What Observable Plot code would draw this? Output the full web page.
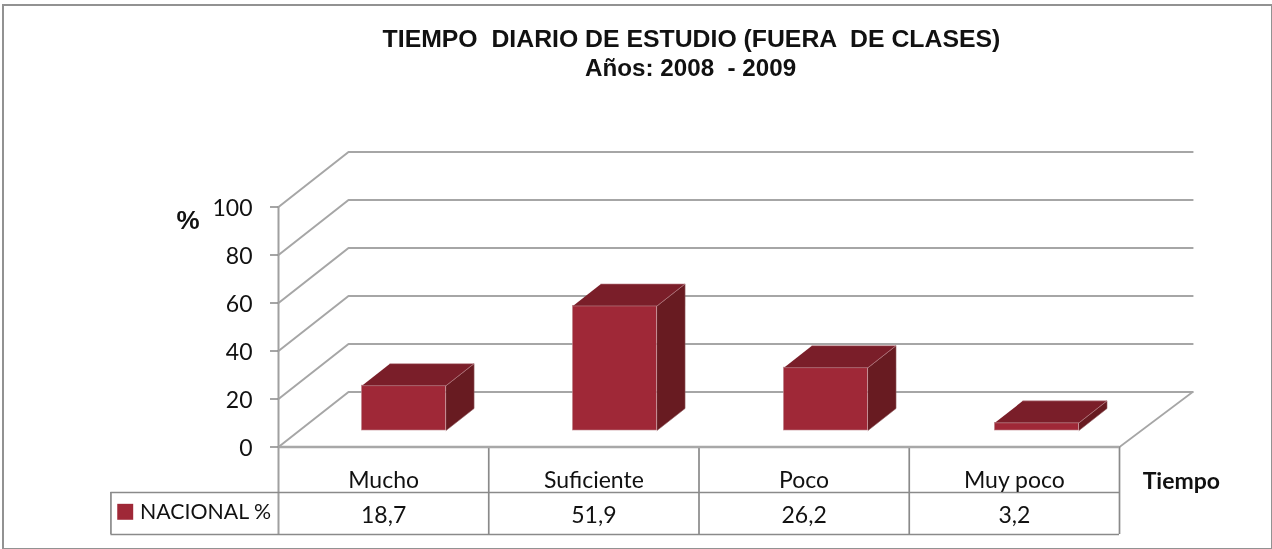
<!DOCTYPE html>
<html><head><meta charset="utf-8">
<script src="https://cdn.jsdelivr.net/npm/d3@7"></script>
<script src="https://cdn.jsdelivr.net/npm/@observablehq/plot@0.6"></script>
<style>
html,body{margin:0;padding:0;background:#fff;width:1272px;height:549px;overflow:hidden}
#box{position:absolute;left:2px;top:4px;width:1267px;height:542px;border:2px solid #929292;pointer-events:none}
svg{position:absolute;left:0;top:0;display:block;filter:blur(0.4px)}
</style></head><body>
<div id="chart"></div><div id="box"></div>
<script>
const categories = ["Mucho","Suficiente","Poco","Muy poco"];
const values = [18.7,51.9,26.2,3.2];
const valueLabels = ["18,7","51,9","26,2","3,2"];
const yTicks = [0,20,40,60,80,100];
const titleLines = ["TIEMPO  DIARIO DE ESTUDIO (FUERA  DE CLASES)","Años: 2008  - 2009"];
const seriesName = "NACIONAL %";

// oblique projection, in data units
const depthX = 0.333, depthY = 22.9;
const barStep = 1.0035, barGap = 0.297, barWidth = 0.4, d0 = 0.3, d1 = 0.7;
const rowCat = -18.96, rowVal = -36.46, tableLeft = -0.797, tickLen = -0.038;
const P = (c, d, v) => ({x: c + d*depthX, y: v + d*depthY});

const bars = values.map((v,i)=>({i, a: i*barStep+barGap, b: i*barStep+barGap+barWidth, v}));
const poly = (fn) => bars.flatMap(b => fn(b).map(p => ({...p, z:b.i})));
const topFace = poly(b=>[P(b.a,d0,b.v),P(b.b,d0,b.v),P(b.b,d1,b.v),P(b.a,d1,b.v)]);
const sideFace = poly(b=>[P(b.b,d0,0),P(b.b,d1,0),P(b.b,d1,b.v),P(b.b,d0,b.v)]);
const frontFace = bars.map(b=>{const p=P(b.a,d0,0), q=P(b.b,d0,b.v); return {x1:p.x,x2:q.x,y1:p.y,y2:q.y};});

const wall = yTicks.flatMap(t=>[P(0,0,t),P(0,1,t),P(4.015,1,t)].map(p=>({...p,z:t})));
const floorEdge = [P(4,0,0),P(4.015,1,0)];

const gridC="#a6a6a6", tableC="#8a8a8a";
const sans="Lato, sans-serif", arial="'Liberation Sans', Arial, sans-serif";
const face={stroke:"#c08a90",strokeWidth:0.6};

const chart = Plot.plot({
  width:1272,height:549,
  marginLeft:278,marginRight:153,marginTop:206.5,marginBottom:102.5,
  style:{background:"#fff",fontFamily:sans,color:"#111"},
  x:{type:"linear",domain:[0,4],axis:null},
  y:{type:"linear",domain:[0,100]},
  marks:[
    Plot.line(wall,{x:"x",y:"y",z:"z",stroke:gridC,strokeWidth:2}),
    Plot.line(floorEdge,{x:"x",y:"y",stroke:gridC,strokeWidth:1.7}),
    Plot.ruleX([1,2,3,4],{y1:rowVal,y2:0,stroke:tableC,strokeWidth:1.7}),
    Plot.ruleX([tableLeft],{y1:rowVal,y2:rowCat,stroke:tableC,strokeWidth:1.7}),
    Plot.ruleY([0],{x1:0,x2:4,stroke:"#a8a8a8",strokeWidth:2.4}),
    Plot.ruleX([0],{y1:rowVal,y2:100,stroke:"#a0a0a0",strokeWidth:2}),
    Plot.ruleY([rowCat,rowVal],{x1:tableLeft,x2:4,stroke:tableC,strokeWidth:1.7}),
    Plot.ruleY(yTicks,{x1:tickLen,x2:0,stroke:"#8f8f8f",strokeWidth:1.6}),
    Plot.axisY({ticks:yTicks,tickSize:0,tickPadding:26,fontSize:23,label:null,tickFormat:d=>String(d),dy:2}),
    Plot.rect(frontFace,{x1:"x1",x2:"x2",y1:"y1",y2:"y2",fill:"#9f2837",...face}),
    Plot.line(sideFace,{x:"x",y:"y",z:"z",fill:"#681b21",...face,stroke:"#8e5a5e"}),
    Plot.line(topFace,{x:"x",y:"y",z:"z",fill:"#7a1e29",...face}),
    Plot.text(categories,{x:(d,i)=>i+0.5,y:-14,text:d=>d,fontSize:23}),
    Plot.text(valueLabels,{x:(d,i)=>i+0.5,y:-28.5,text:d=>d,fontSize:23}),
    Plot.text([seriesName],{x:tableLeft+0.138,y:-27.3,text:d=>d,textAnchor:"start",fontSize:21.3}),
    Plot.dot([seriesName],{x:tableLeft+0.068,y:-27,symbol:"square",r:9,fill:"#9f2837"}),
    Plot.text(["Tiempo"],{x:4.11,y:-14.3,text:d=>d,textAnchor:"start",fontWeight:"bold",fontSize:23}),
    Plot.text(["%"],{x:-0.43,y:94.5,text:d=>d,fontWeight:"bold",fontSize:26,fontFamily:arial}),
    Plot.text([titleLines[0]],{x:1.964,y:169.8,text:d=>d,fontWeight:"bold",fontSize:24.8,fontFamily:arial}),
    Plot.text([titleLines[1]],{x:1.96,y:157.7,text:d=>d,fontWeight:"bold",fontSize:24.2,fontFamily:arial})
  ]
});
chart.querySelectorAll("text").forEach(t=>t.style.whiteSpace="pre");
document.getElementById("chart").append(chart);
</script></body></html>
